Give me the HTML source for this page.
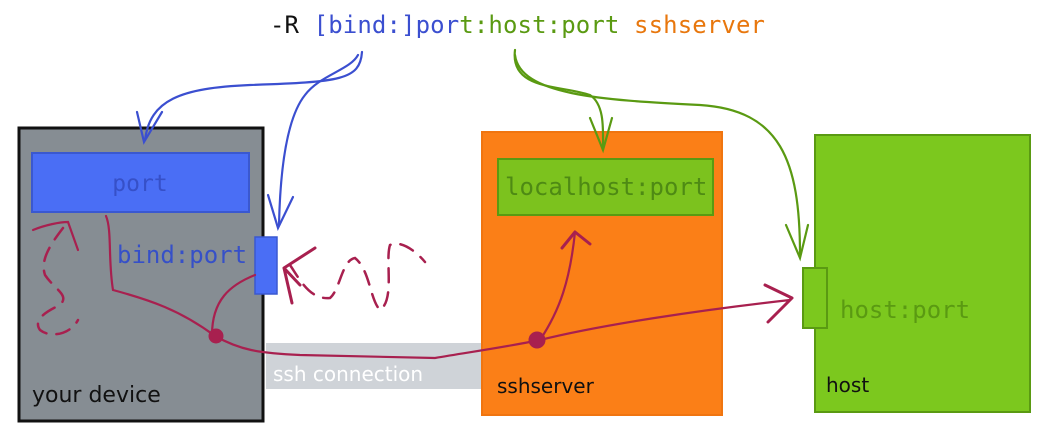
<!DOCTYPE html>
<html><head><meta charset="utf-8"><style>
html,body{margin:0;padding:0;background:#fff;}
svg{display:block;}
.m{font-family:"DejaVu Sans Mono","Liberation Mono",monospace;}
.h{font-family:"DejaVu Sans",sans-serif;}
</style></head><body>
<svg width="1057" height="438" viewBox="0 0 1057 438" xmlns="http://www.w3.org/2000/svg">
<text x="270" y="33" class="m" font-size="24" textLength="495"><tspan fill="#111">-R </tspan><tspan fill="#3b4fd0">[bind:]por</tspan><tspan fill="#5a9a12">t:host:port </tspan><tspan fill="#e8770d">sshserver</tspan></text>
<!-- your device -->
<rect x="19" y="128" width="244" height="293" fill="#868d93" stroke="#111" stroke-width="3"/>
<rect x="32" y="153" width="217" height="59" fill="#4a6ef5" stroke="#3a58d0" stroke-width="2"/>
<text x="140" y="191" class="m" font-size="23" fill="#3650c8" text-anchor="middle">port</text>
<text x="117" y="263" class="m" font-size="24" fill="#3650c8">bind:port</text>
<rect x="255" y="237" width="22" height="57" fill="#4a6ef5" stroke="#3a58d0" stroke-width="1.5"/>
<text x="32" y="402" class="h" font-size="22" fill="#111">your device</text>
<!-- ssh connection -->
<rect x="266" y="343" width="215" height="46" fill="#cfd3d8"/>
<text x="273" y="381" class="h" font-size="20" fill="#fff">ssh connection</text>
<!-- sshserver -->
<rect x="482" y="132" width="240" height="283" fill="#fb7f17" stroke="#f07510" stroke-width="2"/>
<rect x="498" y="159" width="215" height="56" fill="#7cc21e" stroke="#5a9a12" stroke-width="2"/>
<text x="505" y="195" class="m" font-size="24" fill="#4e8a14">localhost:port</text>
<text x="497" y="393" class="h" font-size="20" fill="#111">sshserver</text>
<!-- host -->
<rect x="815" y="135" width="215" height="277" fill="#7cc81e" stroke="#5a9a12" stroke-width="2"/>
<rect x="803" y="268" width="24" height="60" fill="#7cc81e" stroke="#5a9a12" stroke-width="2"/>
<text x="840" y="318" class="m" font-size="24" fill="#5a9a12">host:port</text>
<text x="826" y="392" class="h" font-size="20" fill="#111">host</text>
<!-- blue arrows -->
<g fill="none" stroke="#3b4fd0" stroke-width="2.2" stroke-linecap="round">
<path d="M362 52 C360 80 340 82 250 85 C180 88 150 100 145 140"/>
<path d="M137 112 L144 142 L162 112"/>
<path d="M358 55 C350 70 320 75 305 95 C285 120 280 180 279 225"/>
<path d="M268 195 L278 228 L293 197"/>
</g>
<!-- green arrows -->
<g fill="none" stroke="#5a9a12" stroke-width="2.2" stroke-linecap="round">
<path d="M515 50 C510 90 560 85 590 95 C605 105 603 130 603 150"/>
<path d="M590 118 L603 150 L612 118"/>
<path d="M515 55 C520 95 600 100 700 105 C780 110 800 160 800 255"/>
<path d="M786 225 L800 258 L808 225"/>
</g>
<!-- magenta lines -->
<g fill="none" stroke="#a8204f" stroke-width="2.2" stroke-linecap="round">
<path d="M106 216 C112 230 108 260 113 290 C150 300 180 310 215 336 C240 350 258 353 300 355 L435 358 C470 352 500 348 540 340"/>
<path d="M255 275 C230 285 212 300 212 335"/>
<path d="M540 340 C560 310 570 280 575 232"/>
<path d="M540 340 C600 325 700 310 790 300"/>
<path d="M33 230 C45 225 60 222 68 222 L78 250"/>
</g>
<g fill="none" stroke="#a8204f" stroke-width="2.5" stroke-dasharray="14 10" stroke-linecap="round">
<path d="M63 228 C50 245 40 260 45 275 C55 290 70 295 60 305 C45 312 33 320 40 330 C50 338 70 335 78 320"/>
<path d="M290 265 C300 280 310 300 330 298 C340 290 342 260 355 258 C370 270 370 300 380 310 C395 300 385 260 390 245 C400 240 415 250 425 262"/>
</g>
<g fill="#a8204f" stroke="#a8204f" stroke-width="3" stroke-linecap="round">
<path d="M284 268 L315 248 M284 268 L300 285 M284 268 L292 303" fill="none"/>
<path d="M575 232 L562 248 M575 232 L590 244" fill="none"/>
<path d="M792 298 L765 285 M792 298 L768 322" fill="none"/>
<circle cx="216" cy="336" r="6"/>
<circle cx="537" cy="340" r="7"/>
</g>
</svg>
</body></html>
